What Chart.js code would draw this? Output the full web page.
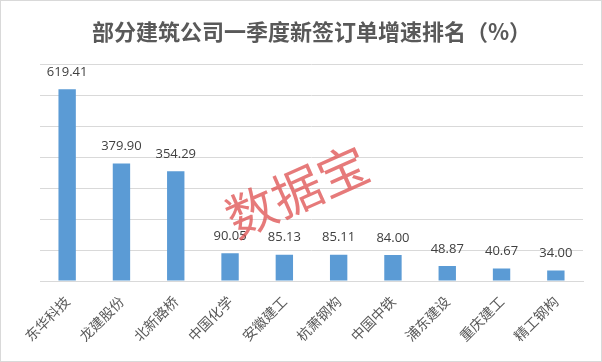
<!DOCTYPE html>
<html>
<head>
<meta charset="utf-8">
<script src="https://cdn.jsdelivr.net/npm/chart.js@4/dist/chart.umd.min.js"></script>
<style>
  body { margin: 0; background: #fff; }
  #box { width: 600px; height: 360px; border: 1px solid #d9d9d9; }
</style>
</head>
<body>
<div id="box"><canvas id="myChart" width="600" height="360"></canvas></div>
<script>
// data
var companies = ['东华科技', '龙建股份', '北新路桥', '中国化学', '安徽建工', '杭萧钢构', '中国中铁', '浦东建设', '重庆建工', '精工钢构'];
var growth = [619.41, 379.90, 354.29, 90.05, 85.13, 85.11, 84.00, 48.87, 40.67, 34.00];
var titleText = '部分建筑公司一季度新签订单增速排名（%）';
var watermark = '数据宝';

// value labels above the bars
var valueLabels = {
    id: 'valueLabels',
    afterDatasetsDraw: function(chart) {
        var ctx = chart.ctx;
        var meta = chart.getDatasetMeta(0);
        ctx.save();
        ctx.font = '13px "Open Sans"';
        ctx.fillStyle = '#404040';
        ctx.textAlign = 'center';
        ctx.textBaseline = 'middle';
        meta.data.forEach(function(bar, i) {
            ctx.fillText(growth[i].toFixed(2), bar.x, bar.y - 17);
        });
        ctx.restore();
    }
};

// red stamp in the middle
var stamp = {
    id: 'stamp',
    afterDraw: function(chart) {
        var ctx = chart.ctx;
        ctx.save();
        ctx.translate(296, 190);
        ctx.rotate(-0.42);
        ctx.font = '50px "Noto Sans CJK SC"';
        ctx.fillStyle = 'rgba(220, 70, 70, 0.72)';
        ctx.textAlign = 'center';
        ctx.textBaseline = 'middle';
        ctx.fillText(watermark, 0, 0);
        ctx.restore();
    }
};

const ctx = document.getElementById('myChart');
const myChart = new Chart(ctx, {
    type: 'bar',
    data: {
        labels: companies,
        datasets: [{
            data: growth,
            backgroundColor: '#5b9bd5',
            categoryPercentage: 1,
            barPercentage: 0.32
        }]
    },
    options: {
        responsive: false,
        animation: false,
        devicePixelRatio: 1,
        layout: { padding: { left: 39, right: 18, top: 0, bottom: 0 } },
        plugins: {
            legend: { display: false },
            tooltip: { enabled: false },
            title: {
                display: true,
                text: titleText,
                color: '#595959',
                font: { family: '"Noto Sans CJK SC"', size: 22, weight: 'bold' },
                padding: { top: 17, bottom: 20 }
            }
        },
        scales: {
            x: {
                grid: { display: false },
                border: { color: '#d9d9d9' },
                ticks: {
                    color: '#595959',
                    font: { family: '"Noto Sans CJK SC"', size: 14 },
                    minRotation: 45,
                    maxRotation: 45,
                    padding: 4
                },
                afterFit: function(scale) { scale.height = 80; }
            },
            y: {
                min: 0,
                max: 700,
                ticks: { display: false, stepSize: 100 },
                border: { display: false },
                grid: { color: '#d9d9d9', drawTicks: false }
            }
        }
    },
    plugins: [valueLabels, stamp]
});
</script>
</body>
</html>
